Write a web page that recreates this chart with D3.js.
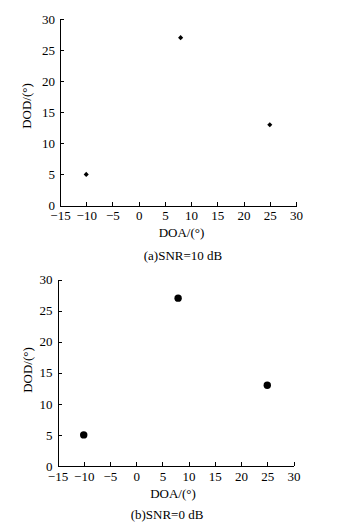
<!DOCTYPE html>
<html>
<head>
<meta charset="utf-8">
<script src="https://cdn.jsdelivr.net/npm/d3@7"></script>
<style>
body { margin: 0; background: #fff; }
svg { display: block; }
text { font-family: "Liberation Serif", "Times New Roman", serif; fill: #000; }
</style>
</head>
<body>
<div id="chart"></div>
<script>
var doa = [-10, 8, 25];
var dodA = [5, 27, 13];
var dodB = [5, 27, 13];
var xTicks = [-15, -10, -5, 0, 5, 10, 15, 20, 25, 30];
var yTicks = [0, 5, 10, 15, 20, 25, 30];

var W = 345, H = 526;

var svg = d3.select("#chart").append("svg")
	.attr("width", W)
	.attr("height", H);

var panels = [
	{ x0: 60, x1: 296, y0: 205.5, y1: 19, dod: dodA, marker: "diamond",
	  caption: "(a)SNR=10 dB", capX: 183, capY: 259.5, labX: 181.5, labY: 236.5, ylX: 30.5, ylY: 106 },
	{ x0: 57.5, x1: 293.5, y0: 466, y1: 279.5, dod: dodB, marker: "dot",
	  caption: "(b)SNR=0 dB", capX: 167, capY: 518.5, labX: 173, labY: 497.5, ylX: 31.5, ylY: 370 }
];

panels.forEach(function(p) {
	var x = d3.scaleLinear().domain([-15, 30]).range([p.x0, p.x1]);
	var y = d3.scaleLinear().domain([0, 30]).range([p.y0, p.y1]);

	var g = svg.append("g");

	var xAxis = d3.axisBottom(x)
		.tickValues(xTicks)
		.tickSizeInner(-4)
		.tickSizeOuter(0)
		.tickPadding(5.5);

	var yAxis = d3.axisLeft(y)
		.tickValues(yTicks)
		.tickSizeInner(-4)
		.tickSizeOuter(0)
		.tickPadding(5);

	g.append("g")
		.attr("transform", "translate(0," + p.y0 + ")")
		.call(xAxis);

	g.append("g")
		.attr("transform", "translate(" + p.x0 + ",0)")
		.call(yAxis);

	g.selectAll(".domain, .tick line")
		.attr("stroke", "#000")
		.attr("stroke-width", 1)
		.attr("shape-rendering", "crispEdges");

	g.selectAll(".tick text")
		.attr("font-size", "13px")
		.attr("font-family", "'Liberation Serif', 'Times New Roman', serif");

	var pts = doa.map(function(d, i) { return { a: d, b: p.dod[i] }; });

	if (p.marker == "diamond") {
		g.selectAll("path.pt").data(pts).enter().append("path")
			.attr("class", "pt")
			.attr("d", d3.symbol().type(d3.symbolSquare).size(13))
			.attr("transform", function(d) { return "translate(" + x(d.a) + "," + y(d.b) + ") rotate(45)"; })
			.attr("fill", "#000");
	} else {
		g.selectAll("circle.pt").data(pts).enter().append("circle")
			.attr("class", "pt")
			.attr("cx", function(d) { return x(d.a); })
			.attr("cy", function(d) { return y(d.b); })
			.attr("r", 3.7)
			.attr("fill", "#000");
	}

	g.append("text")
		.attr("x", p.labX)
		.attr("y", p.labY)
		.attr("font-size", "13px")
		.attr("text-anchor", "middle")
		.text("DOA/(°)");

	g.append("text")
		.attr("transform", "translate(" + p.ylX + "," + p.ylY + ") rotate(-90)")
		.attr("font-size", "13px")
		.attr("text-anchor", "middle")
		.text("DOD/(°)");

	g.append("text")
		.attr("x", p.capX)
		.attr("y", p.capY)
		.attr("font-size", "13px")
		.attr("text-anchor", "middle")
		.text(p.caption);
});
</script>
</body>
</html>
